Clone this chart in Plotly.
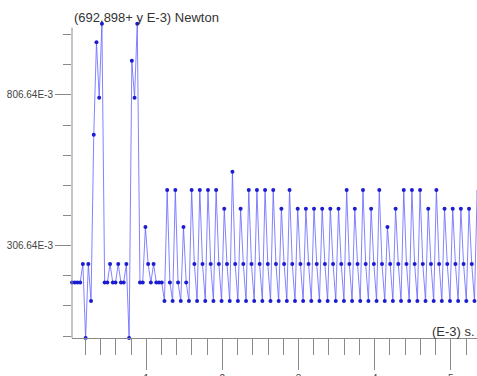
import numpy as np
import plotly.graph_objects as go

# Sampled force signal (values in E-3 units), sampled at 28 kHz (time in E-3 s)
t_start = 0.025
sample_period = 1.0 / 28.0
force = [
    184.0, 184.0, 184.0, 184.0, 245.3, 0.0, 245.3, 122.7,
    674.7, 981.3, 797.3, 1042.7,
    184.0, 184.0, 245.3, 184.0, 184.0, 245.3, 184.0, 184.0, 245.3,
    0.0, 920.0, 797.3, 1042.7,
    184.0, 184.0, 368.0, 245.3, 184.0, 245.3, 184.0, 184.0, 184.0,
    122.7, 490.7, 184.0,
    122.7, 490.7, 184.0,
    122.7, 368.0, 184.0,
    122.7, 490.7, 245.3,
    122.7, 490.7, 245.3,
    122.7, 490.7, 245.3,
    122.7, 490.7, 245.3,
    122.7, 429.3, 245.3,
    122.7, 552.0, 245.3,
    122.7, 429.3, 245.3,
    122.7, 490.7, 245.3,
    122.7, 490.7, 245.3,
    122.7, 490.7, 245.3,
    122.7, 490.7, 245.3,
    122.7, 429.3, 245.3,
    122.7, 490.7, 245.3,
    122.7, 429.3, 245.3,
    122.7, 429.3, 245.3,
    122.7, 429.3, 245.3,
    122.7, 429.3, 245.3,
    122.7, 429.3, 245.3,
    122.7, 429.3, 245.3,
    122.7, 490.7, 245.3,
    122.7, 429.3, 245.3,
    122.7, 490.7, 245.3,
    122.7, 429.3, 245.3,
    122.7, 490.7, 245.3,
    122.7, 368.0, 245.3,
    122.7, 429.3, 245.3,
    122.7, 490.7, 245.3,
    122.7, 490.7, 245.3,
    122.7, 490.7, 245.3,
    122.7, 429.3, 245.3,
    122.7, 490.7, 245.3,
    122.7, 429.3, 245.3,
    122.7, 429.3, 245.3,
    122.7, 429.3, 245.3,
    122.7, 429.3, 245.3,
    122.7, 490.7, 245.3,
]
time = t_start + np.arange(len(force)) * sample_period

y_tick_vals = [306.64, 806.64]
y_tick_text = ["306.64E-3", "806.64E-3"]
y_minor_vals = [6.64, 106.64, 206.64, 306.64, 406.64, 506.64, 606.64, 706.64, 806.64, 906.64, 1006.64]
x_tick_vals = [1, 2, 3, 4, 5]
x_tick_text = ["1", "2", "3", "4", "5"]

y_title = "(692.898+ y E-3) Newton"
x_title = "(E-3) s."

axis_col = "#8a8a8a"
font_fam = "Liberation Sans, Arial, sans-serif"

fig = go.Figure()
fig.add_trace(go.Scatter(
    x=time, y=force, mode="lines+markers",
    line=dict(color="rgba(100,100,255,0.8)", width=1),
    marker=dict(color="#1c1cd0", size=4),
    cliponaxis=False, hoverinfo="skip",
))

fig.update_layout(
    width=477, height=376,
    margin=dict(l=72, r=0, t=5, b=38, autoexpand=False),
    paper_bgcolor="white", plot_bgcolor="white",
    showlegend=False,
    font=dict(family=font_fam, size=10, color="#444"),
    xaxis=dict(
        range=[0.025, 5.344], showgrid=False, zeroline=False, automargin=False,
        showline=True, linecolor=axis_col, linewidth=1,
        tickmode="array", tickvals=x_tick_vals, ticktext=x_tick_text,
        ticks="outside", ticklen=31, tickcolor=axis_col, tickwidth=1,
        tickfont=dict(size=10, color="#444", family=font_fam),
        minor=dict(ticks="outside", ticklen=16, tickcolor=axis_col, tickwidth=1,
                   dtick=0.2, tick0=0, showgrid=False),
    ),
    yaxis=dict(
        range=[0, 1105], showgrid=False, zeroline=False, showline=False, automargin=False,
        tickmode="array", tickvals=y_tick_vals, ticktext=y_tick_text,
        ticks="outside", ticklen=16, tickcolor=axis_col, tickwidth=1,
        tickfont=dict(size=10, color="#444", family=font_fam),
        minor=dict(ticks="outside", ticklen=8, tickcolor=axis_col, tickwidth=1,
                   tickmode="array", tickvals=y_minor_vals, showgrid=False),
    ),
    shapes=[dict(type="line", xref="paper", yref="y", x0=0, x1=0, y0=0, y1=1030,
                 line=dict(color=axis_col, width=1))],
    annotations=[
        dict(text=y_title, xref="paper", yref="paper", x=0, y=0.961,
             xanchor="left", yanchor="middle", showarrow=False,
             font=dict(size=13, color="#333", family=font_fam)),
        dict(text=x_title, xref="paper", yref="paper", x=1.0, y=0.02,
             xanchor="right", yanchor="middle", showarrow=False,
             font=dict(size=13, color="#333", family=font_fam)),
    ],
)

fig.write_html(
    "out.html",
    config={"displayModeBar": False, "staticPlot": True},
    post_script="document.body.style.margin='0';document.body.style.overflow='hidden';",
)
